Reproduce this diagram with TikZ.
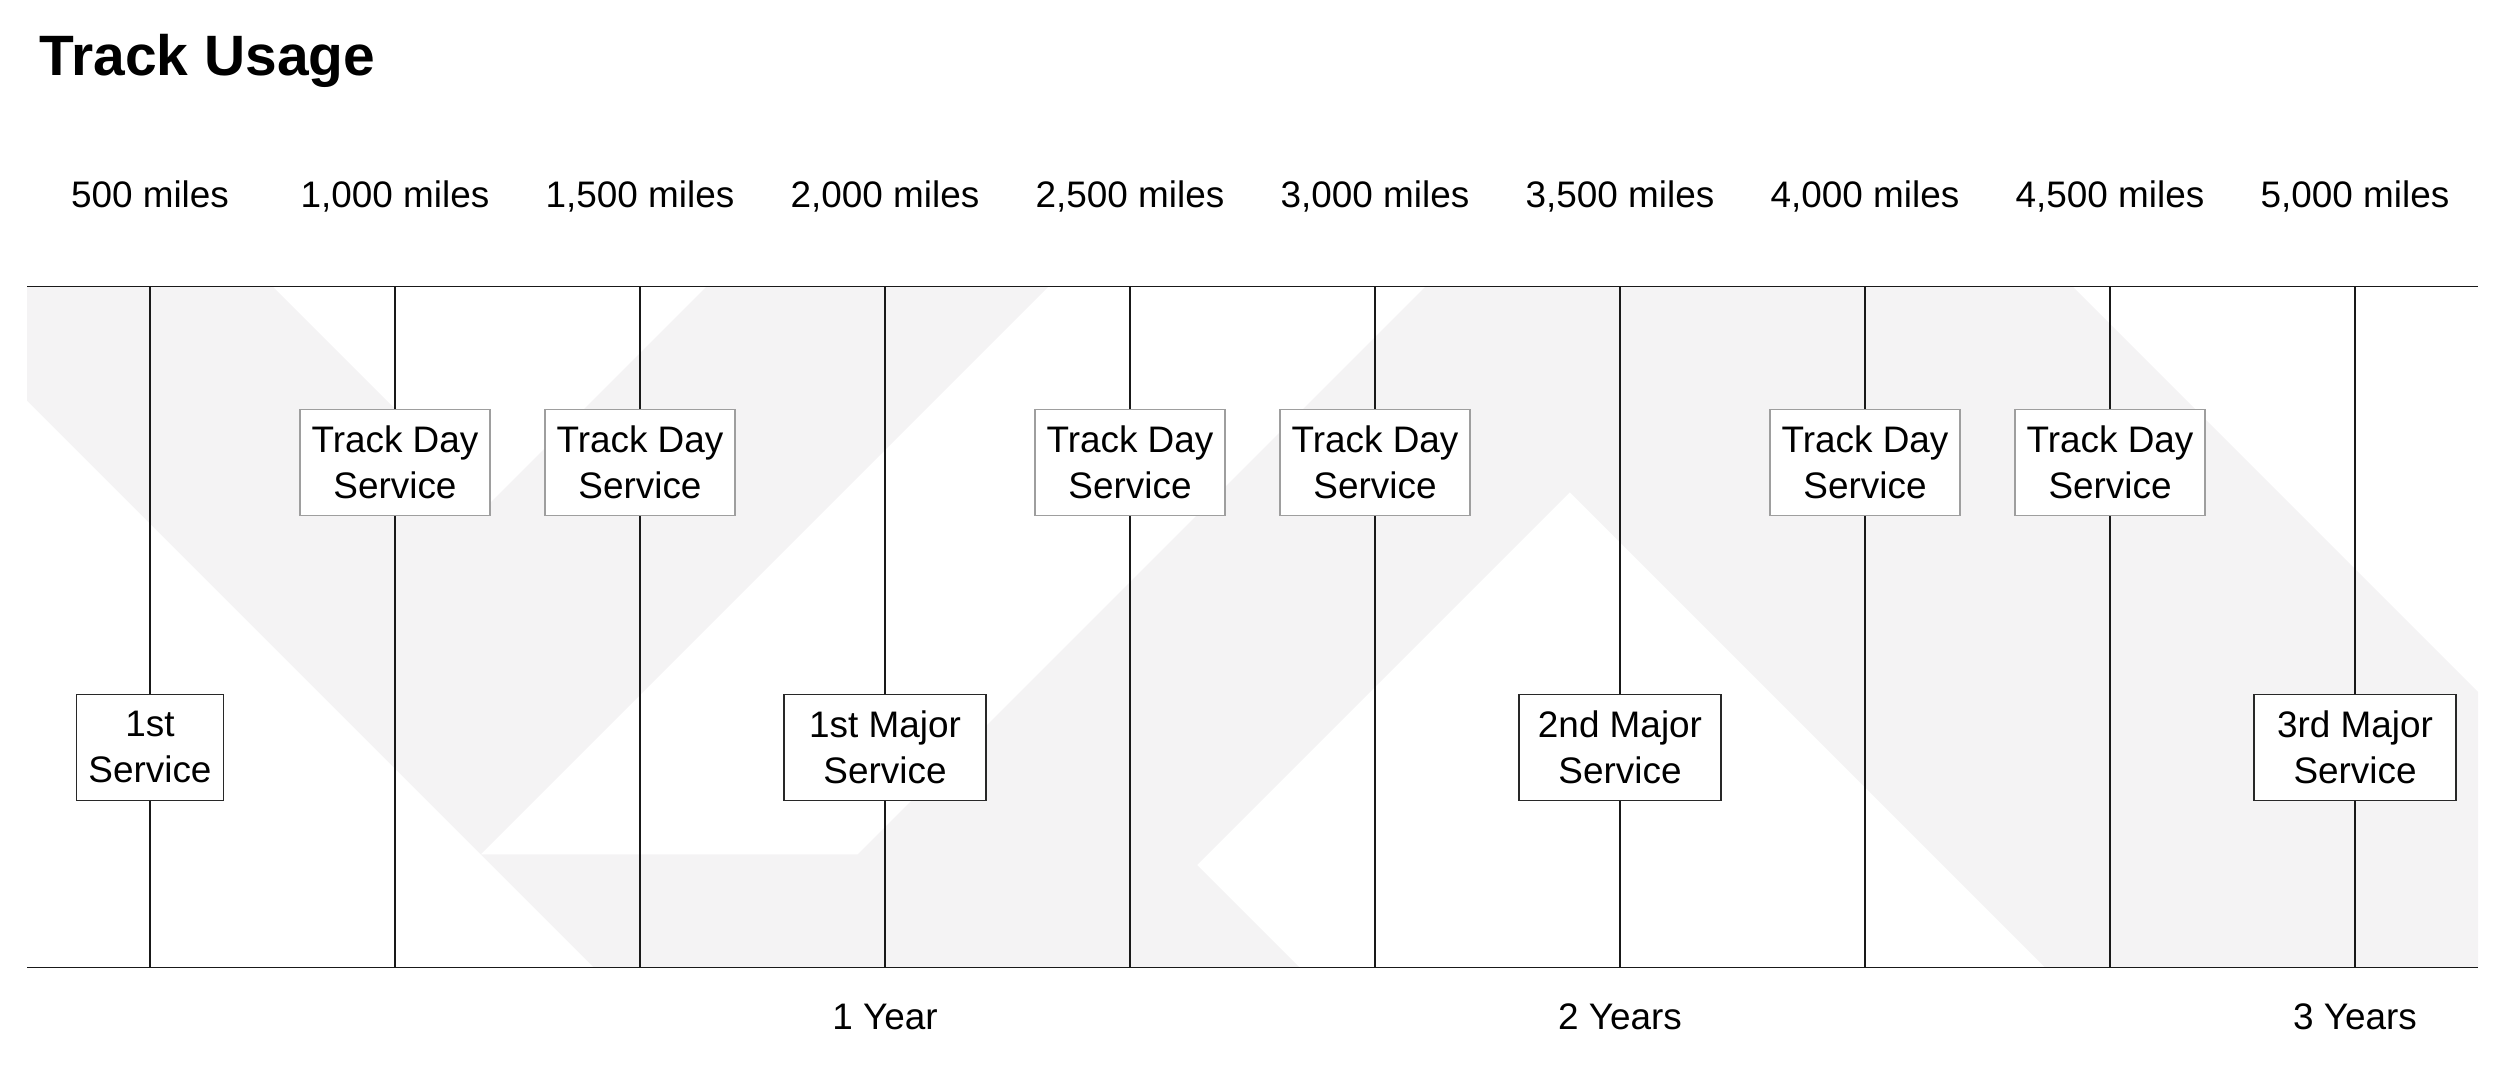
\documentclass[tikz,border=0pt]{standalone}
\usepackage{fontspec}
\setmainfont{Liberation Sans}
\definecolor{bgshape}{RGB}{244,243,244}
\definecolor{tdborder}{RGB}{158,158,158}
\definecolor{mjborder}{RGB}{40,40,40}
\definecolor{inkline}{RGB}{25,25,25}
\newcommand{\svctext}[3]{\parbox[c]{#1}{\centering #2\\#3}}
\tikzset{
  toplabel/.style={anchor=base, inner sep=0pt, font=\fontsize{10.5}{12.6}\selectfont},
  svcbox/.style={draw, fill=white, inner sep=0pt, minimum height=1.06cm, line width=0.4pt,
                 font=\fontsize{10.5}{12.95}\selectfont},
  tdbox/.style={svcbox, draw=tdborder, minimum width=1.90cm},
  mjbox/.style={svcbox, draw=mjborder, minimum width=2.02cm},
  firstbox/.style={svcbox, draw=mjborder, minimum width=1.47cm},
  axisline/.style={line width=0.55pt, draw=inkline},
  tickline/.style={line width=0.38pt, draw=inkline},
}
\begin{document}
\begin{tikzpicture}
\useasboundingbox (0,0) rectangle (25,-10.74);
% background logo shape
\fill[bgshape] (0.27,-2.865) -- (2.725,-2.865) -- (4.895,-5.035) -- (7.065,-2.865)
  -- (10.485,-2.865) -- (4.8075,-8.5425) -- (8.5775,-8.5425) -- (14.255,-2.865)
  -- (20.725,-2.865) -- (24.78,-6.92) -- (24.78,-9.675) -- (20.451,-9.675)
  -- (15.698,-4.922) -- (11.97,-8.65) -- (12.995,-9.675) -- (5.94,-9.675)
  -- (0.27,-4.005) -- cycle;

% title
\node[anchor=base west, inner sep=0pt, font=\fontsize{16.2}{19}\selectfont\bfseries] (title) at (0.39,-0.76) {Track Usage};

% axis lines
\coordinate (topL) at (0.27,-2.865);
\coordinate (topR) at (24.78,-2.865);
\coordinate (botL) at (0.27,-9.675);
\coordinate (botR) at (24.78,-9.675);
\draw[axisline] (topL) -- (topR);
\draw[axisline] (botL) -- (botR);

% mileage labels
\node[toplabel] (m1) at (1.50,-2.08) {500 miles};
\node[toplabel] (m2) at (3.95,-2.08) {1,000 miles};
\node[toplabel] (m3) at (6.40,-2.08) {1,500 miles};
\node[toplabel] (m4) at (8.85,-2.08) {2,000 miles};
\node[toplabel] (m5) at (11.30,-2.08) {2,500 miles};
\node[toplabel] (m6) at (13.75,-2.08) {3,000 miles};
\node[toplabel] (m7) at (16.20,-2.08) {3,500 miles};
\node[toplabel] (m8) at (18.65,-2.08) {4,000 miles};
\node[toplabel] (m9) at (21.10,-2.08) {4,500 miles};
\node[toplabel] (m10) at (23.55,-2.08) {5,000 miles};

% tick anchors
\foreach \i/\x in {1/1.50,2/3.95,3/6.40,4/8.85,5/11.30,6/13.75,7/16.20,8/18.65,9/21.10,10/23.55}{
  \coordinate (t\i) at (\x,-2.865);
  \coordinate (b\i) at (\x,-9.675);
}

% service boxes
\node[firstbox] (s1) at (1.50,-7.472) {\svctext{1.40cm}{1st}{Service}};
\node[tdbox] (s2) at (3.95,-4.624) {\svctext{1.84cm}{Track Day}{Service}};
\node[tdbox] (s3) at (6.40,-4.624) {\svctext{1.84cm}{Track Day}{Service}};
\node[mjbox] (s4) at (8.85,-7.472) {\svctext{1.96cm}{1st Major}{Service}};
\node[tdbox] (s5) at (11.30,-4.624) {\svctext{1.84cm}{Track Day}{Service}};
\node[tdbox] (s6) at (13.75,-4.624) {\svctext{1.84cm}{Track Day}{Service}};
\node[mjbox] (s7) at (16.20,-7.472) {\svctext{1.96cm}{2nd Major}{Service}};
\node[tdbox] (s8) at (18.65,-4.624) {\svctext{1.84cm}{Track Day}{Service}};
\node[tdbox] (s9) at (21.10,-4.624) {\svctext{1.84cm}{Track Day}{Service}};
\node[mjbox] (s10) at (23.55,-7.472) {\svctext{1.96cm}{3rd Major}{Service}};

% vertical connectors
\foreach \i in {1,...,10}{
  \draw[tickline] (t\i) -- (s\i.north);
  \draw[tickline] (s\i.south) -- (b\i);
}

% year labels
\node[toplabel] (y1) at (8.85,-10.29) {1 Year};
\node[toplabel] (y2) at (16.20,-10.29) {2 Years};
\node[toplabel] (y3) at (23.55,-10.29) {3 Years};
\end{tikzpicture}
\end{document}
